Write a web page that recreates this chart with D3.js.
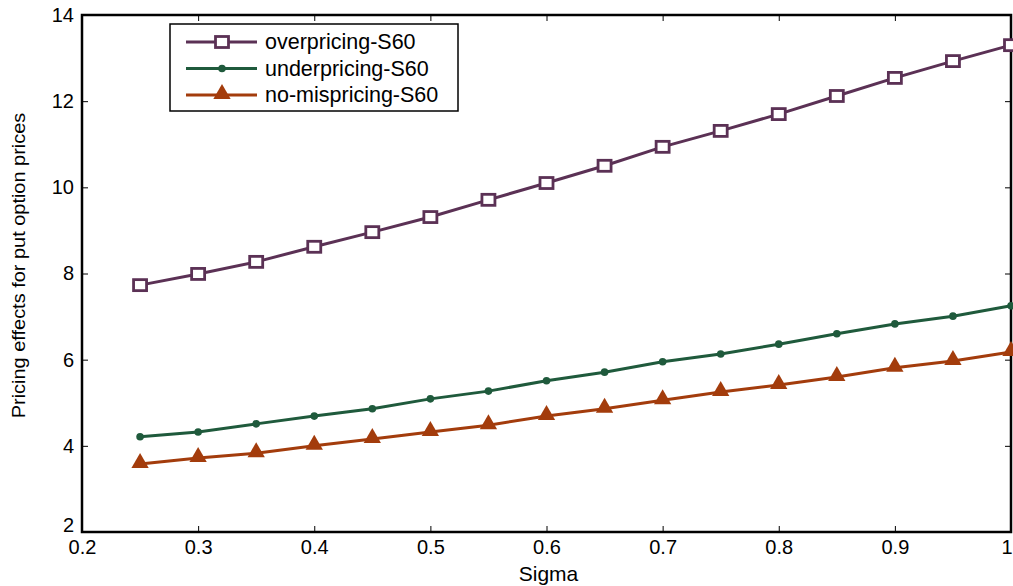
<!DOCTYPE html>
<html><head><meta charset="utf-8">
<script src="https://cdn.jsdelivr.net/npm/d3@7"></script>
<style>
body{margin:0;background:#fff;}
text{font-family:"Liberation Sans",Arial,sans-serif;}
</style></head>
<body><svg id="c" width="1013" height="586"></svg>
<script>
const sigma = [0.25,0.3,0.35,0.4,0.45,0.5,0.55,0.6,0.65,0.7,0.75,0.8,0.85,0.9,0.95,1.0];
const overpricing = [7.73,7.99,8.27,8.62,8.96,9.31,9.71,10.10,10.50,10.94,11.31,11.70,12.12,12.54,12.93,13.30];
const underpricing = [4.21,4.32,4.51,4.69,4.86,5.09,5.27,5.51,5.71,5.95,6.13,6.36,6.60,6.83,7.01,7.25];
const noMispricing = [3.58,3.72,3.83,4.00,4.16,4.32,4.48,4.69,4.86,5.06,5.25,5.41,5.60,5.81,5.97,6.18];
const seriesNames = ["overpricing-S60","underpricing-S60","no-mispricing-S60"];
const xTicks = [0.2,0.3,0.4,0.5,0.6,0.7,0.8,0.9,1.0];
const yTicks = [2,4,6,8,10,12,14];
const colors = ["#5b3155","#1f5a3c","#a33c0c"];

const svg = d3.select("#c");
const L=82, R=1011, T=15, B=532;
const x = d3.scaleLinear().domain([0.2,1.0]).range([L,R]);
const y = d3.scaleLinear().domain([2,14]).range([B,T]);

const fmtX = d => d===1 ? "1" : d3.format(".1f")(d);
svg.append("g").attr("transform",`translate(0,${B})`)
  .call(d3.axisBottom(x).tickValues(xTicks).tickSize(-6).tickPadding(8).tickFormat(fmtX))
  .call(g=>{g.select(".domain").remove();g.selectAll("text").attr("font-size",20).attr("fill","#000");
    g.selectAll(".tick").filter(d=>d===1).select("text").attr("text-anchor","end").attr("dx",1);
    g.selectAll("line").attr("stroke","#000");});
svg.append("g").attr("transform",`translate(0,${T})`)
  .call(d3.axisTop(x).tickValues(xTicks).tickSize(-6).tickFormat(""))
  .call(g=>{g.select(".domain").remove();g.selectAll("line").attr("stroke","#000");});
svg.append("g").attr("transform",`translate(${L},0)`)
  .call(d3.axisLeft(y).tickValues(yTicks).tickSize(-6).tickPadding(8).tickFormat(d3.format("d")))
  .call(g=>{g.select(".domain").remove();g.selectAll("text").attr("font-size",20).attr("fill","#000");
    g.selectAll(".tick").filter(d=>d===2).select("text").attr("dy","-0.05em");
    g.selectAll("line").attr("stroke","#000");});
svg.append("g").attr("transform",`translate(${R},0)`)
  .call(d3.axisRight(y).tickValues(yTicks).tickSize(-6).tickFormat(""))
  .call(g=>{g.select(".domain").remove();g.selectAll("line").attr("stroke","#000");});
svg.append("rect").attr("x",L).attr("y",T).attr("width",R-L).attr("height",B-T)
  .attr("fill","none").attr("stroke","#000").attr("stroke-width",2.5);

const data = [overpricing, underpricing, noMispricing];
const line = d3.line().x((d,i)=>x(sigma[i])).y(d=>y(d));
data.forEach((vals,k)=>{
  svg.append("path").datum(vals).attr("d",line).attr("fill","none")
    .attr("stroke",colors[k]).attr("stroke-width",3);
});
function marker(g,k,cx,cy){
  if(k===0){
    g.append("rect").attr("x",cx-6.5).attr("y",cy-5.5).attr("width",13).attr("height",11)
      .attr("fill","#fff").attr("stroke",colors[0]).attr("stroke-width",2.8);
  } else if(k===1){
    g.append("circle").attr("cx",cx).attr("cy",cy).attr("r",3.8).attr("fill",colors[1]);
  } else {
    g.append("path").attr("d",d3.symbol(d3.symbolTriangle,130)())
      .attr("transform",`translate(${cx},${cy-1})`).attr("fill",colors[2]);
  }
}
data.forEach((vals,k)=>{
  const g = svg.append("g");
  vals.forEach((v,i)=>marker(g,k,x(sigma[i]),y(v)));
});

const lg = svg.append("g");
lg.append("rect").attr("x",170).attr("y",24).attr("width",288).attr("height",87)
  .attr("fill","#fff").attr("stroke","#000").attr("stroke-width",1.5);
seriesNames.forEach((n,k)=>{
  const yy = 42 + k*26.5;
  lg.append("line").attr("x1",186).attr("x2",257).attr("y1",yy).attr("y2",yy)
    .attr("stroke",colors[k]).attr("stroke-width",3);
  marker(lg,k,222,yy);
  lg.append("text").attr("x",265).attr("y",yy+7).attr("font-size",21.5).text(n);
});

svg.append("text").attr("x",(L+R)/2+2).attr("y",581).attr("text-anchor","middle")
  .attr("font-size",21).text("Sigma");
svg.append("text").attr("transform",`translate(25,${(T+B)/2-8}) rotate(-90) scale(1.05,1)`)
  .attr("text-anchor","middle").attr("font-size",19).text("Pricing effects for put option prices");
</script></body></html>
